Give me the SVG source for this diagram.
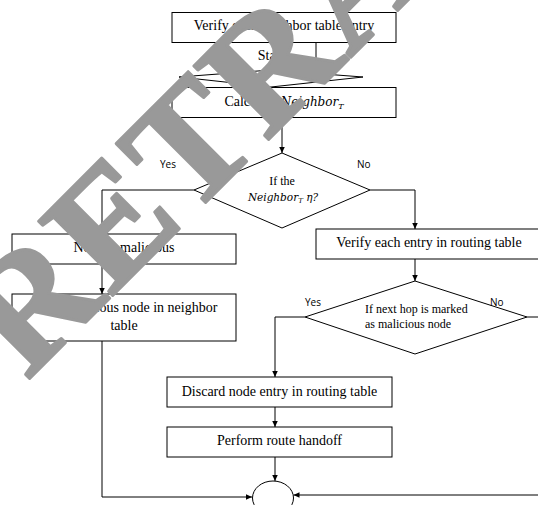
<svg xmlns="http://www.w3.org/2000/svg" width="538" height="505" viewBox="0 0 538 505">
<style>
.box{fill:#fff;stroke:#000;stroke-width:1}
.ln{fill:none;stroke:#000;stroke-width:1}
.t{font-family:"Liberation Serif","Times New Roman",serif;font-size:14px;fill:#000}
.ts{font-family:"Liberation Serif","Times New Roman",serif;font-size:12px;fill:#000}
.m{font-family:"DejaVu Serif",serif;font-style:italic;fill:#000}
.lab{font-family:"Open Sans","Liberation Sans",sans-serif;font-size:10px;fill:#000}
.wm{font-family:"Liberation Serif","Times New Roman",serif;font-weight:bold;font-size:160px;letter-spacing:3px;fill:#999;stroke:#999;stroke-width:3;stroke-linejoin:round}
</style>
<defs>
<marker id="ah" markerWidth="7" markerHeight="6" refX="6" refY="2.75" orient="auto" markerUnits="userSpaceOnUse"><path d="M0,0 L6,2.75 L0,5.5 z" fill="#000"/></marker>
</defs>
<rect width="538" height="505" fill="#fff"/>
<g id="connectors">
<path class="ln" d="M282,117.5 V153" marker-end="url(#ah)"/>
<path class="ln" d="M194,190 H102 V234" marker-end="url(#ah)"/>
<path class="ln" d="M102,264 V294" marker-end="url(#ah)"/>
<path class="ln" d="M102,341 V497 H252" marker-end="url(#ah)"/>
<path class="ln" d="M370,190 H415 V229" marker-end="url(#ah)"/>
<path class="ln" d="M415,259 V281" marker-end="url(#ah)"/>
<path class="ln" d="M305,317 H275 V377" marker-end="url(#ah)"/>
<path class="ln" d="M275,407 V427" marker-end="url(#ah)"/>
<path class="ln" d="M275,457 V481" marker-end="url(#ah)"/>
<path class="ln" d="M527,317 H540"/>
<path class="ln" d="M540,495 H293.5" marker-end="url(#ah)"/>
<path class="ln" d="M225.5,42 V70 M316,42 V70"/>
</g>
<g id="n1"><rect class="box" x="172" y="12.5" width="224" height="30"/><text class="t" x="284" y="30" text-anchor="middle">Verify each neighbor table entry</text></g>
<g id="n2"><text class="t" x="271" y="60" text-anchor="middle">Start</text></g>
<g id="n3"><polygon class="ln" points="179,77 271,70 363,77 271,87"/></g>
<g id="n4"><rect class="box" x="172" y="87.5" width="224" height="30"/><text class="t" x="284" y="106" text-anchor="middle">Calculate <tspan class="m" font-size="12">Neighbor</tspan><tspan class="m" font-size="8" dy="3">T</tspan></text></g>
<g id="n5"><polygon class="box" points="282,153 370,190 282,228 194,190"/><text class="ts" x="282" y="185" text-anchor="middle">If the</text><text class="m" x="283" y="201" text-anchor="middle" font-size="10.5">Neighbor<tspan font-size="7" dy="2">T</tspan><tspan dy="-2"> η?</tspan></text></g>
<g id="n6"><rect class="box" x="12" y="234" width="224" height="30"/><text class="t" x="124" y="252" text-anchor="middle">Node is malicious</text></g>
<g id="n7"><rect class="box" x="12" y="294" width="224" height="47"/><text class="t" x="124" y="312" text-anchor="middle">Mark malicious node in neighbor</text><text class="t" x="124" y="330" text-anchor="middle">table</text></g>
<g id="n8"><rect class="box" x="316" y="229" width="230" height="30"/><text class="t" x="429" y="247" text-anchor="middle">Verify each entry in routing table</text></g>
<g id="n9"><polygon class="box" points="415,281 527,317 415,354 305,317"/><text class="ts" x="365" y="313">If next hop is marked</text><text class="ts" x="365" y="328">as malicious node</text></g>
<g id="n10"><rect class="box" x="167" y="377" width="225" height="30"/><text class="t" x="279.5" y="395.5" text-anchor="middle">Discard node entry in routing table</text></g>
<g id="n11"><rect class="box" x="167" y="427" width="225" height="30"/><text class="t" x="279.5" y="445" text-anchor="middle">Perform route handoff</text></g>
<g id="n12"><ellipse class="ln" cx="273" cy="498" rx="20.5" ry="17"/></g>
<g id="labels">
<text class="lab" x="160" y="168">Yes</text>
<text class="lab" x="357" y="168">No</text>
<text class="lab" x="305" y="306">Yes</text>
<text class="lab" x="490" y="306">No</text>
</g>
<g id="watermark"><text class="wm" transform="translate(27,381) rotate(-45)">RETRACTED</text></g>
</svg>
